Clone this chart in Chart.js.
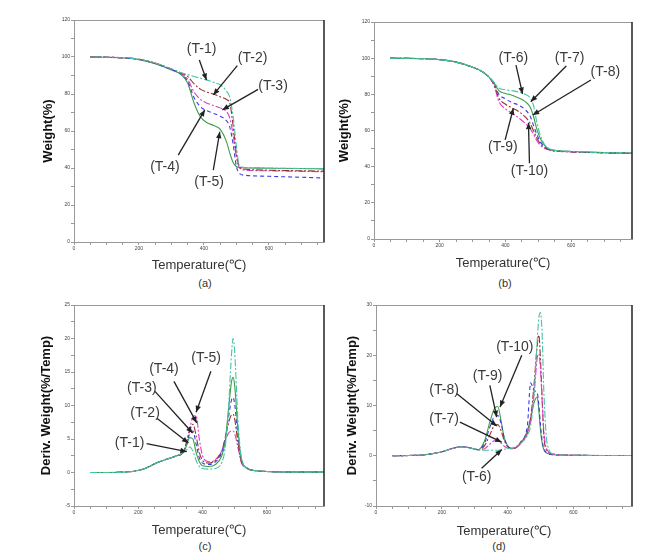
<!DOCTYPE html>
<html>
<head>
<meta charset="utf-8">
<script src="https://cdn.jsdelivr.net/npm/chart.js@4.4.1/dist/chart.umd.min.js"></script>
<style>
  body { margin:0; background:#fff; }
  #wrap { position:relative; width:646px; height:552px; overflow:hidden; font-family:'Liberation Sans', Arial, sans-serif; }
  canvas { position:absolute; }
  .cap { position:absolute; font-size:11px; color:#333; transform:translateX(-50%); }
</style>
</head>
<body>
<div id="wrap">
  <canvas id="ca" width="330" height="276" style="left:0;top:0"></canvas>
  <canvas id="cb" width="316" height="276" style="left:330px;top:0"></canvas>
  <canvas id="cc" width="330" height="250" style="left:0;top:290px"></canvas>
  <canvas id="cd" width="316" height="250" style="left:330px;top:290px"></canvas>
  <div class="cap" style="left:205px;top:277px">(a)</div>
  <div class="cap" style="left:505px;top:277px">(b)</div>
  <div class="cap" style="left:205px;top:540px">(c)</div>
  <div class="cap" style="left:499px;top:540px">(d)</div>
</div>
<script>
// ---- (a) TGA, T-1..T-5
var tempA = [50,100,150,200,250,300,330,350,370,390,410,430,450,470,480,490,500,510,530,600,700,770];
var a_T1 = [100,99.9,99.6,98.8,96.8,93.6,91.5,90.5,89.5,88.5,87.5,86.3,85,81.5,78,68,52,41,40.3,40,39.7,39.5];
var a_T2 = [100,99.9,99.6,98.8,96.8,93.5,91.3,89.5,85.5,82.5,81,80,78.5,77,75,63,48,40.5,39.3,38.8,38.5,38.3];
var a_T3 = [100,99.9,99.6,98.7,96.6,93.4,91,88,81,77,75,73.8,72.5,70.5,67,58,46,40,38.8,38.5,38.2,38];
var a_T4 = [100,99.9,99.5,98.7,96.5,93.2,90.8,87,78,73,71,69.5,68,65.5,62,53,41,37,36,35.5,35,34.6];
var a_T5 = [100,99.9,99.5,98.6,96.4,93,90.5,86,75,67.5,64.5,63,61,54,48,43,40.8,40.3,40,39.9,39.7,39.5];

// ---- (b) TGA, T-6..T-10
var tempB = [50,100,150,200,250,300,330,350,365,380,400,420,440,460,475,485,495,505,520,540,600,700,785];
var b_T6 = [100,99.9,99.7,99.2,97.8,95,92.5,89.5,86.8,83.5,82.5,82,81.3,80,78,74,65,58,52,49.5,48.5,47.8,47.5];
var b_T7 = [100,99.9,99.7,99.2,97.8,95,92.5,89.5,86.5,82,80.5,79.5,78,76,73,68,61,56,51.5,49.3,48.4,47.8,47.5];
var b_T8 = [100,99.9,99.7,99.2,97.8,95,92.5,89.5,86,80,77.5,75.5,74,71.5,68,63,58,54,51,49.2,48.3,47.7,47.4];
var b_T9 = [100,99.9,99.7,99.2,97.8,95,92.5,89.5,85.5,78,74.5,72.5,70.5,67.5,64,60,56,53,50.5,49,48.2,47.7,47.4];
var b_T10 = [100,99.9,99.7,99.2,97.8,95,92.5,89.3,85,76,72,69.5,67,64,61,58,54.5,52,50,49,48.2,47.6,47.3];

// ---- (c) DTG, T-1..T-5
var tempC = [50,100,150,200,230,260,290,320,340,350,360,370,380,390,400,420,440,460,470,480,490,495,500,510,520,540,560,600,700,778];
var c_T1 = [0,0,0.05,0.3,0.8,1.5,2.0,2.5,3.0,3.4,3.8,3.2,1.8,0.9,0.6,0.5,0.6,1.5,3.5,9,17.5,20,18,8,2.5,0.6,0.3,0.15,0.05,0.05];
var c_T2 = [0,0,0.05,0.3,0.8,1.5,2.0,2.5,3.0,4,5.2,5,3,1.6,1.0,0.9,1.2,2.5,4.5,9,13.5,14.2,13,6.5,2.2,0.6,0.3,0.15,0.05,0.05];
var c_T3 = [0,0,0.05,0.3,0.8,1.5,2.0,2.5,3.0,4.2,5.8,6.2,4.2,2.2,1.4,1.2,1.6,3,5,8,10.8,11.2,10.2,5.5,2,0.6,0.3,0.15,0.05,0.05];
var c_T4 = [0,0,0.05,0.3,0.8,1.5,2.0,2.5,3.0,4.4,6.2,7.2,5.5,3,1.8,1.4,1.8,3.2,5,7.2,8.6,8.7,8,4.5,1.8,0.6,0.3,0.15,0.05,0.05];
var c_T5 = [0,0,0.05,0.3,0.8,1.5,2.0,2.5,3.0,4.5,6.5,8.3,8.5,5,2.5,1.6,1.9,3.3,4.6,5.8,6.2,6.2,5.8,3.8,1.6,0.6,0.3,0.15,0.05,0.05];

// ---- (d) DTG, T-6..T-10
var tempD = [50,100,150,200,230,260,290,310,330,345,360,370,380,390,400,410,420,440,460,470,480,490,495,500,505,510,520,540,600,700,778];
var d_T6 = [0,0.05,0.2,0.8,1.4,1.8,1.5,1.2,1.1,1.1,1.1,1.1,1.2,1.3,1.4,1.5,1.7,2.5,4,6,12,23,27.5,28.5,24,13,2.5,0.3,0.1,0.05,0.05];
var d_T7 = [0,0.05,0.2,0.8,1.4,1.8,1.5,1.2,1.4,2.2,3,3,2.5,1.9,1.5,1.4,1.5,2.5,4.5,7,12,19.5,20.3,17,11,5,1.2,0.3,0.1,0.05,0.05];
var d_T8 = [0,0.05,0.2,0.8,1.4,1.8,1.5,1.2,2,4,6,6.2,5,3,1.8,1.4,1.5,2.5,4.5,7.5,14,22,24,19,11,4,1,0.3,0.1,0.05,0.05];
var d_T9 = [0,0.05,0.2,0.8,1.4,1.8,1.5,1.2,2.5,5.5,7.8,8,6.5,3.5,2,1.5,1.5,2.8,6,14.5,13,12.5,10,6,3,1.5,0.5,0.2,0.1,0.05,0.05];
var d_T10 = [0,0.05,0.2,0.8,1.4,1.8,1.5,1.2,3,6.5,9.4,9.8,7,3.5,2,1.5,1.5,2.5,5,7.5,10.5,11.7,9,5,2.5,1.2,0.5,0.2,0.1,0.05,0.05];

// ---- annotations (label, label x/y, arrow from x/y, arrow to x/y) in data units
var notesA = { labels:["(T-1)","(T-2)","(T-3)","(T-4)","(T-5)"],
  tx:[393,550,613,280,416], ty:[104,99.5,84.3,40.7,32.6],
  fx:[386,503,567,321,429], fy:[98.4,95.3,82.5,47,38.9],
  hx:[408,429,457,403,449], hy:[87.6,79.5,71.4,71.4,59.6] };
var notesB = { labels:["(T-6)","(T-7)","(T-8)","(T-9)","(T-10)"],
  tx:[424,595,704,392,473], ty:[99.9,99.9,92,51,37.8],
  fx:[432,585,660,399,473], fy:[96.2,95.7,87.9,54.8,41.9],
  hx:[452,477,483,424,470], hy:[80.2,75.9,68.6,72.3,64.3] };
var notesC = { labels:["(T-1)","(T-2)","(T-3)","(T-4)","(T-5)"],
  tx:[173,221,211,280,411], ty:[4.4,8.9,12.6,15.4,17.1],
  fx:[226,258,252,311,426], fy:[4.3,8.1,12.1,13.6,15.1],
  hx:[351,356,369,382,380], hy:[3.1,4.4,5.9,7.4,9.0] };
var notesD = { labels:["(T-10)","(T-9)","(T-8)","(T-7)","(T-6)"],
  tx:[422,339,207,207,306], ty:[21.7,15.8,13,7.2,-4.2],
  fx:[443,346,245,255,321], fy:[20,14,12.4,6.7,-2.5],
  hx:[377,367,367,382,382], hy:[9.7,7.7,5.9,2.7,1.2] };

var TEAL = "#45c4a6", GREEN = "#3f9e4a", RED = "#9c2f2f", MAG = "#e03cc8", BLUE = "#3a3ee0";
var SOLID = [], DASH = [4,3], DASHDOT = [7,2,2,2];

function pts(xs, ys) {
  return xs.map(function(t, i){ return {x:t, y:ys[i]}; });
}

function line(label, xs, ys, color, dash) {
  return { label:label, data:pts(xs, ys), borderColor:color, borderDash:dash,
    borderWidth:1.1, pointRadius:0, fill:false, cubicInterpolationMode:'monotone' };
}

var notesPlugin = {
  id:'notes',
  afterDatasetsDraw: function(chart, args, o) {
    var ctx = chart.ctx, x = chart.scales.x, y = chart.scales.y, a = chart.chartArea;
    ctx.save();
    // frame: top and right
    ctx.strokeStyle = '#999'; ctx.lineWidth = 1;
    ctx.beginPath(); ctx.moveTo(a.left, a.top + 0.5); ctx.lineTo(a.right, a.top + 0.5); ctx.stroke();
    ctx.strokeStyle = '#222'; ctx.lineWidth = 1.5;
    ctx.beginPath(); ctx.moveTo(a.right, a.top); ctx.lineTo(a.right, a.bottom); ctx.stroke();
    var n = o.n;
    ctx.font = '14px "Liberation Sans", Arial, sans-serif';
    ctx.textAlign = 'center'; ctx.textBaseline = 'middle';
    for (var i = 0; i < n.labels.length; i++) {
      var x1 = x.getPixelForValue(n.fx[i]), y1 = y.getPixelForValue(n.fy[i]);
      var x2 = x.getPixelForValue(n.hx[i]), y2 = y.getPixelForValue(n.hy[i]);
      ctx.strokeStyle = '#222'; ctx.fillStyle = '#222'; ctx.lineWidth = 1.3;
      ctx.beginPath(); ctx.moveTo(x1, y1); ctx.lineTo(x2, y2); ctx.stroke();
      var ang = Math.atan2(y2 - y1, x2 - x1), L = 7;
      ctx.beginPath();
      ctx.moveTo(x2, y2);
      ctx.lineTo(x2 - L*Math.cos(ang - 0.4), y2 - L*Math.sin(ang - 0.4));
      ctx.lineTo(x2 - L*Math.cos(ang + 0.4), y2 - L*Math.sin(ang + 0.4));
      ctx.closePath(); ctx.fill();
      ctx.fillStyle = '#3a3a3a';
      ctx.fillText(n.labels[i], x.getPixelForValue(n.tx[i]), y.getPixelForValue(n.ty[i]));
    }
    ctx.restore();
  }
};

var tickFont = { family:'"Liberation Sans", Arial, sans-serif', size:5 };

function makeChart(id, datasets, xmax, ymin, ymax, ystep, ylabelStep, ytitle, sz, notes) {
  return new Chart(document.getElementById(id), {
    type:'line',
    data:{ datasets:datasets },
    plugins:[notesPlugin],
    options:{
      responsive:false, animation:false, devicePixelRatio:1,
      layout:{ padding:{ top:sz.top, right:sz.right, left:0, bottom:0 } },
      plugins:{ legend:{display:false}, tooltip:{enabled:false}, notes:{ n:notes } },
      scales:{
        x:{ type:'linear', min:0, max:xmax,
          border:{ color:'#999' },
          grid:{ drawOnChartArea:false, tickLength:3, color:'#999' },
          ticks:{ stepSize:50, includeBounds:false, autoSkip:false, maxRotation:0, padding:1,
            font:tickFont, color:'#444',
            callback:function(v){ return v % 200 === 0 ? String(v) : ''; } },
          title:{ display:true, text:'Temperature(℃)', color:'#333',
            font:{ family:'"Liberation Sans", Arial, sans-serif', size:13 }, padding:{ top:0, bottom:sz.xtp } },
          afterFit:function(s){ s.height = sz.xh; } },
        y:{ min:ymin, max:ymax,
          border:{ color:'#999' },
          grid:{ drawOnChartArea:false, tickLength:3, color:'#999' },
          ticks:{ stepSize:ystep, autoSkip:false, padding:1, font:tickFont, color:'#444',
            callback:function(v){ return Math.abs(v / ylabelStep - Math.round(v / ylabelStep)) < 1e-6 ? String(v) : ''; } },
          title:{ display:true, text:ytitle, color:'#111',
            font:{ family:'"Liberation Sans", Arial, sans-serif', size:13, weight:'bold' }, padding:{ top:sz.ytp, bottom:0 } },
          afterFit:function(s){ s.width = sz.yw; } }
      }
    }
  });
}

makeChart('ca', [
  line('T-1', tempA, a_T1, TEAL, DASHDOT),
  line('T-2', tempA, a_T2, RED, DASHDOT),
  line('T-3', tempA, a_T3, MAG, DASHDOT),
  line('T-4', tempA, a_T4, BLUE, DASH),
  line('T-5', tempA, a_T5, GREEN, SOLID)
], 770, 0, 120, 10, 20, 'Weight(%)', { top:20, right:6, yw:74, xh:34, xtp:3, ytp:41 }, notesA);

makeChart('cb', [
  line('T-6', tempB, b_T6, TEAL, DASHDOT),
  line('T-7', tempB, b_T7, GREEN, SOLID),
  line('T-8', tempB, b_T8, BLUE, DASH),
  line('T-9', tempB, b_T9, RED, DASHDOT),
  line('T-10', tempB, b_T10, MAG, DASHDOT)
], 785, 0, 120, 10, 20, 'Weight(%)', { top:22, right:14, yw:44, xh:37, xtp:5, ytp:7 }, notesB);

makeChart('cc', [
  line('T-1', tempC, c_T1, TEAL, DASHDOT),
  line('T-2', tempC, c_T2, GREEN, SOLID),
  line('T-3', tempC, c_T3, BLUE, DASH),
  line('T-4', tempC, c_T4, RED, DASHDOT),
  line('T-5', tempC, c_T5, MAG, DASHDOT)
], 778, -5, 25, 2.5, 5, 'Deriv. Weight(%/Temp)', { top:15, right:6, yw:74, xh:34, xtp:2, ytp:39 }, notesC);

makeChart('cd', [
  line('T-6', tempD, d_T6, TEAL, DASHDOT),
  line('T-7', tempD, d_T7, MAG, DASHDOT),
  line('T-8', tempD, d_T8, RED, DASHDOT),
  line('T-9', tempD, d_T9, BLUE, DASH),
  line('T-10', tempD, d_T10, GREEN, SOLID)
], 778, -10, 30, 5, 10, 'Deriv. Weight(%/Temp)', { top:15, right:14, yw:46, xh:34, xtp:1, ytp:15 }, notesD);
</script>
</body>
</html>
